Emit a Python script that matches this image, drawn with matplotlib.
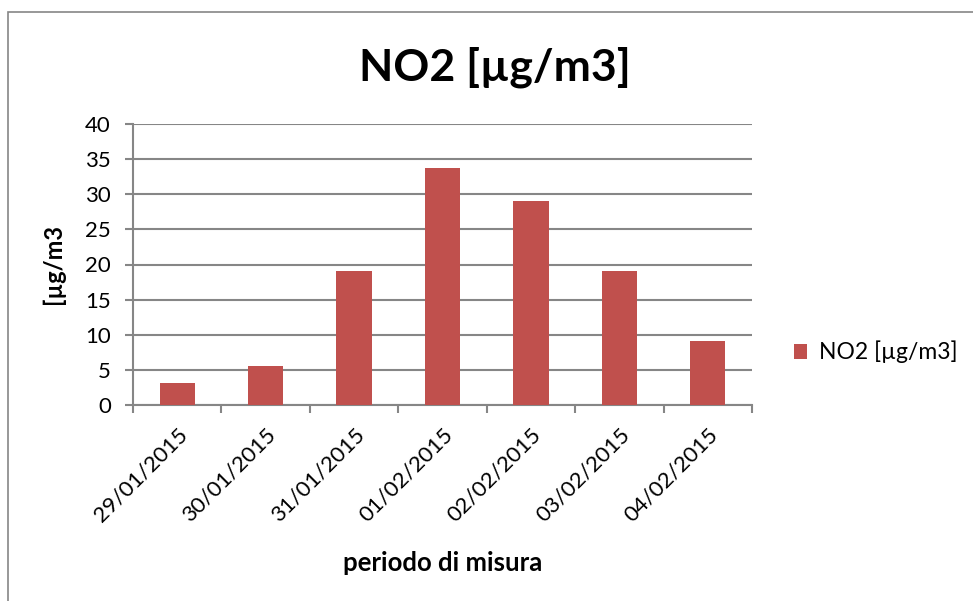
import matplotlib.pyplot as plt
from matplotlib.patches import Rectangle
import numpy as np

plt.rcParams['font.family'] = ['Lato', 'DejaVu Sans']

# data
dates = ['29/01/2015', '30/01/2015', '31/01/2015', '01/02/2015',
         '02/02/2015', '03/02/2015', '04/02/2015']
no2 = [3.2, 5.5, 19.1, 33.7, 29.1, 19.1, 9.1]
yticks = [0, 5, 10, 15, 20, 25, 30, 35, 40]

fig = plt.figure(figsize=(9.73, 6.01), dpi=100)

# outer chart border (cut off right/bottom like the screenshot)
fig.patches.append(Rectangle((8/973, -0.1), 1.1, 1 - 12/601 + 0.1,
                             transform=fig.transFigure, fill=False,
                             edgecolor='#868686', linewidth=1.2))

ax = fig.add_axes([133/973, 1 - 405/601, (752 - 133)/973, (405 - 124)/601])

x = np.arange(len(dates))
ax.bar(x, no2, width=0.4, color='#C0504D', zorder=3, label='NO2 [µg/m3]')

ax.set_xlim(-0.5, len(dates) - 0.5)
ax.set_ylim(0, 40)
ax.set_yticks(yticks)
ax.yaxis.grid(True, color='#868686', linewidth=1.5, zorder=0)

ax.set_xticks(x)
ax.set_xticklabels(dates, rotation=45, ha='right', rotation_mode='anchor', fontsize=16)
ax.set_xticks(np.arange(-0.5, len(dates)), minor=True)
ax.tick_params(axis='x', which='major', length=0, pad=14)
ax.tick_params(axis='x', which='minor', length=6, width=1.5, color='#868686')
ax.tick_params(axis='y', length=6, width=1.5, color='#868686', labelsize=16, pad=10)

for s in ['top', 'right']:
    ax.spines[s].set_visible(False)
for s in ['left', 'bottom']:
    ax.spines[s].set_color('#868686')
    ax.spines[s].set_linewidth(1.5)

ax.set_ylabel('[µg/m3', fontsize=17, fontweight='bold')
ax.yaxis.set_label_coords((65 - 133)/619, 0.5)
ax.set_xlabel('periodo di misura', fontsize=18.5, fontweight='bold')
ax.xaxis.set_label_coords(0.5, -0.52)

fig.text(495/973, 1 - 67/601, 'NO2 [µg/m3]', fontsize=32, fontweight='bold',
         ha='center', va='center')

fig.legend(loc='center left', bbox_to_anchor=(773/973, 1 - 352/601), frameon=False,
           fontsize=16.5, handlelength=0.6, handleheight=0.6, handletextpad=0.5)

fig.savefig('out.png', dpi=100)
